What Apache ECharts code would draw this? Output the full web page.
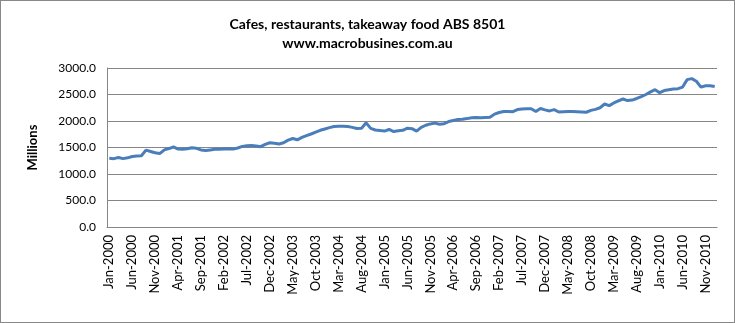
<!DOCTYPE html>
<html>
<head>
<meta charset="utf-8">
<script src="https://cdn.jsdelivr.net/npm/echarts@6/dist/echarts.min.js"></script>
<style>
html,body{margin:0;padding:0;background:#fff;}
#c{width:735px;height:323px;box-sizing:border-box;border:1px solid #888;}
</style>
</head>
<body>
<div id="c"></div>
<script>
var monthNames = ['Jan','Feb','Mar','Apr','May','Jun','Jul','Aug','Sep','Oct','Nov','Dec'];
var startYear = 2000;
var nMonths = 133;
var categories = [];
for (var i = 0; i < nMonths; i++) {
  categories.push(monthNames[i % 12] + '-' + (startYear + Math.floor(i / 12)));
}
var sales = [
  1295,1290,1310,1290,1305,1330,1340,1345,1450,1425,1400,1385,
  1455,1480,1510,1470,1465,1475,1495,1485,1455,1445,1455,1465,
  1465,1470,1475,1470,1490,1520,1535,1540,1530,1515,1560,1590,
  1580,1565,1590,1640,1670,1645,1690,1725,1755,1790,1825,1850,
  1875,1895,1900,1900,1895,1880,1860,1865,1965,1860,1830,1820,
  1810,1840,1800,1815,1825,1865,1855,1810,1880,1920,1945,1960,
  1940,1950,1990,2010,2030,2035,2045,2060,2065,2060,2065,2070,
  2130,2160,2180,2180,2175,2215,2225,2230,2230,2180,2235,2210,
  2190,2215,2170,2175,2180,2180,2175,2170,2165,2200,2220,2250,
  2320,2290,2340,2380,2415,2385,2395,2425,2460,2500,2550,2590,
  2535,2575,2590,2605,2610,2640,2780,2800,2750,2640,2665,2665,
  2650
];
var titleLines = ['Cafes, restaurants, takeaway food ABS 8501', 'www.macrobusines.com.au'];
var yAxisName = 'Millions';

var chart = echarts.init(document.getElementById('c'));
var font = 'Lato, "Open Sans", sans-serif';
chart.setOption({
  animation: false,
  title: {
    text: titleLines.join('\n'),
    left: 'center',
    top: 9,
    textStyle: {fontFamily: font, fontSize: 14, fontWeight: 'bold', color: '#000', lineHeight: 19}
  },
  grid: {left: 106, right: 17, top: 67, bottom: 95, containLabel: false},
  xAxis: {
    type: 'category',
    data: categories,
    boundaryGap: true,
    axisLine: {lineStyle: {color: '#868686', width: 1}},
    axisTick: {show: false},
    axisLabel: {interval: 4, rotate: 90, fontFamily: font, fontSize: 13, color: '#000', margin: 8}
  },
  yAxis: {
    type: 'value',
    min: 0, max: 3000, interval: 500,
    name: yAxisName,
    nameLocation: 'middle',
    nameGap: 68,
    nameRotate: 90,
    nameTextStyle: {fontFamily: font, fontSize: 13, fontWeight: 'bold', color: '#000'},
    axisLine: {show: true, lineStyle: {color: '#868686'}},
    axisTick: {show: false},
    splitLine: {lineStyle: {color: '#868686', width: 1}},
    axisLabel: {fontFamily: font, fontSize: 12, color: '#000', margin: 11,
      formatter: function (v) { return v.toFixed(1); }}
  },
  series: [{
    type: 'line',
    data: sales,
    showSymbol: false,
    lineStyle: {color: '#4A7EBB', width: 3},
    itemStyle: {color: '#4A7EBB'}
  }]
});
</script>
</body>
</html>
